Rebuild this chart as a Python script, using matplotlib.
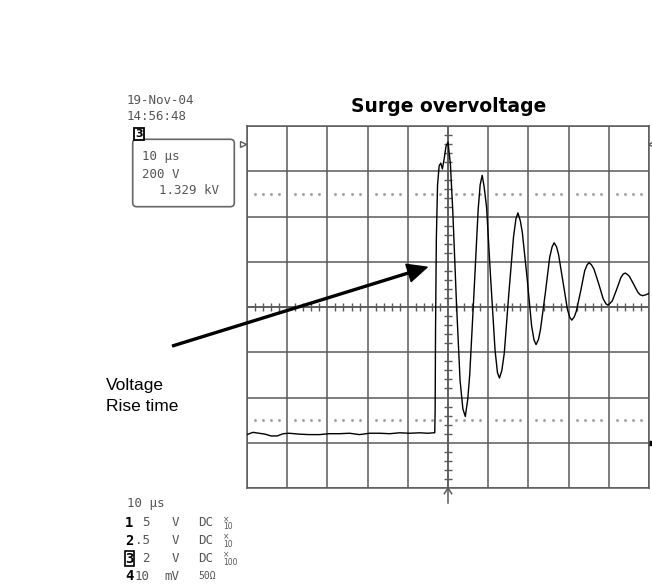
import numpy as np
import matplotlib.pyplot as plt
from matplotlib.patches import FancyBboxPatch

# channel 3 trace: time in µs (10 µs/div), voltage in V (200 V/div)
base_t = [-50, -48.5, -47, -45.5, -44, -42.5, -41, -39.5, -37, -34.5, -32, -29.5,
          -27, -24.5, -22, -19.5, -17, -14.5, -12, -9.5, -7, -5, -3.6]
base_v = [36, 46, 42, 38, 30, 30, 40, 42, 38, 36, 36, 40,
          40, 42, 36, 42, 42, 40, 44, 42, 44, 42, 44]

rise_t = [-3.3, -3.2, -3.1, -2.9, -2.6, -2.2, -1.8, -1.4, -1.0, -0.5]
rise_v = [44, 140, 500, 900, 1140, 1224, 1236, 1210, 1250, 1310]

ring_t = [0, 0.6, 1.2, 2.1, 3.0, 3.7, 4.3, 4.9, 5.4, 6.4, 7.5, 8.0, 8.5, 9.0, 9.6,
          10.6, 11.7, 12.3, 12.8, 13.4, 14.0, 15.1, 16.3, 16.9, 17.4, 18.0, 18.5,
          19.7, 20.8, 21.4, 21.9, 22.5, 23.0, 24.2, 25.3, 25.9, 26.4, 27.0, 27.5,
          28.6, 29.7, 30.3, 30.8, 31.4, 31.9, 33.0, 34.0, 34.6, 35.1, 35.7, 36.3,
          37.5, 38.6, 39.3, 39.8, 40.4, 40.9, 42.0, 43.0, 43.6, 44.1, 44.6, 45.1,
          46.2, 47.2, 47.8, 48.4, 49.2, 50.0]
ring_v = [1329, 1230, 1020, 620, 276, 150, 116, 190, 300, 640, 1030, 1140, 1182, 1130, 1040,
          730, 410, 310, 286, 320, 396, 652, 910, 990, 1016, 980, 928,
          724, 516, 454, 434, 456, 500, 660, 820, 866, 884, 866, 832,
          712, 590, 554, 542, 556, 580, 670, 760, 786, 796, 786, 768,
          702, 636, 614, 608, 618, 628, 680, 730, 746, 750, 744, 736,
          700, 666, 654, 650, 654, 660]

peak_kv = 1.329
date_str = "19-Nov-04"
time_str = "14:56:48"
readout = ["10 µs", "200 V", f"{peak_kv:.3f} kV"]
channels = [("1", "5", "V", "DC", "×\n10"),
            ("2", ".5", "V", "DC", "×\n10"),
            ("3", "2", "V", "DC", "×\n100"),
            ("4", "10", "mV", "50Ω", "")]

W, H = 652, 585
fig = plt.figure(figsize=(W / 100, H / 100), dpi=100)


def px(x, y):
    return x / W, 1 - y / H


ax = fig.add_axes([247 / W, (H - 488) / H, 402 / W, 362 / H])
ax.set_xlim(-50, 50)
ax.set_ylim(-200, 1400)
ax.set_xticks(np.arange(-50, 51, 10))
ax.set_yticks(np.arange(-200, 1401, 200))
ax.tick_params(length=0, labelbottom=False, labelleft=False)
grid_col = "#5a5a5a"
ax.grid(True, color=grid_col, lw=1.1)
for sp in ax.spines.values():
    sp.set_color(grid_col)
    sp.set_linewidth(1.1)

ax.axhline(600, color=grid_col, lw=1.1)
ax.axvline(0, color=grid_col, lw=1.1)

# minor ticks on the centre graticule lines
minor_x = [x for x in np.arange(-48, 49, 2) if x % 10]
minor_y = [y for y in np.arange(-160, 1361, 40) if (y + 200) % 200]
ax.plot(minor_x, [600] * len(minor_x), ls="none", marker="|", ms=6, mew=1, color=grid_col)
ax.plot([0] * len(minor_y), minor_y, ls="none", marker="_", ms=6, mew=1, color=grid_col)

# dotted reference levels
for lvl in (100, 1100):
    ax.plot(minor_x, [lvl] * len(minor_x), ls="none", marker="s", ms=0.9, color="#9a9a9a")

t = base_t + rise_t + ring_t
v = base_v + rise_v + ring_v
ax.plot(t, v, color="black", lw=1.0, zorder=5)

# graticule markers
ax.plot([-51], [1320], marker=">", ms=5, mfc="white", mec=grid_col, clip_on=False)
ax.plot([50.6], [1320], marker="<", ms=5, mfc="white", mec=grid_col, clip_on=False)
ax.plot([50.5], [0], marker="s", ms=3, color="black", clip_on=False)
ax.plot([0, 0], [-200, -265], color=grid_col, lw=1.1, clip_on=False)
ax.plot([-0.9, 0, 0.9], [-225, -200, -225], color=grid_col, lw=1.1, clip_on=False)

fig.text(*px(448.5, 112), "Surge overvoltage", fontsize=13.5, fontweight="bold",
         family="DejaVu Sans", ha="center", va="baseline")

ax.annotate("", xy=(-5.2, 776), xytext=(-68.5, 428),
            arrowprops=dict(facecolor="black", edgecolor="black", width=1.4,
                            headwidth=13, headlength=14, shrink=0),
            annotation_clip=False)

fig.text(*px(106, 396), "Voltage\nRise time", fontsize=12.5, family="Liberation Sans",
         va="center", ha="left", linespacing=1.45)

mono = dict(family="DejaVu Sans Mono", color="#555555", fontsize=9, va="center")
fig.text(*px(127, 100), date_str, **mono)
fig.text(*px(127, 116), time_str, **mono)

box = FancyBboxPatch((1.327, (H - 206.7) / 100), 1.016, 0.674,
                     boxstyle="round,pad=0,rounding_size=0.04",
                     transform=fig.dpi_scale_trans, fill=False, ec="#666666", lw=1.2)
fig.add_artist(box)
fig.text(*px(135, 134), "3", fontsize=8, fontweight="bold", va="center",
         bbox=dict(boxstyle="square,pad=0.08", fc="white", ec="black", lw=1.3))
fig.text(*px(142, 157), readout[0], **mono)
fig.text(*px(142, 174), readout[1], **mono)
fig.text(*px(159, 190), readout[2], **mono)

fig.text(*px(127, 503), "10 µs", **mono)
for i, (num, val, unit, cpl, probe) in enumerate(channels):
    y = 523 + i * 17.8
    num_style = dict(family="DejaVu Sans Mono", fontsize=10, fontweight="bold",
                     va="center", ha="left")
    if num == "3":
        num_style["bbox"] = dict(boxstyle="square,pad=0.02", fc="white", ec="black", lw=1.2)
    fig.text(*px(125, y), num, **num_style)
    fig.text(*px(150, y), val, ha="right", **mono)
    fig.text(*px(179, y), unit, ha="right", **mono)
    fig.text(*px(198, y), cpl, **{**mono, "fontsize": 9 if cpl == "DC" else 7})
    if probe:
        fig.text(*px(223, y), probe, fontsize=5.5, color="#555555", va="center",
                 linespacing=0.75, family="DejaVu Sans")

fig.savefig("out.png", dpi=100)
